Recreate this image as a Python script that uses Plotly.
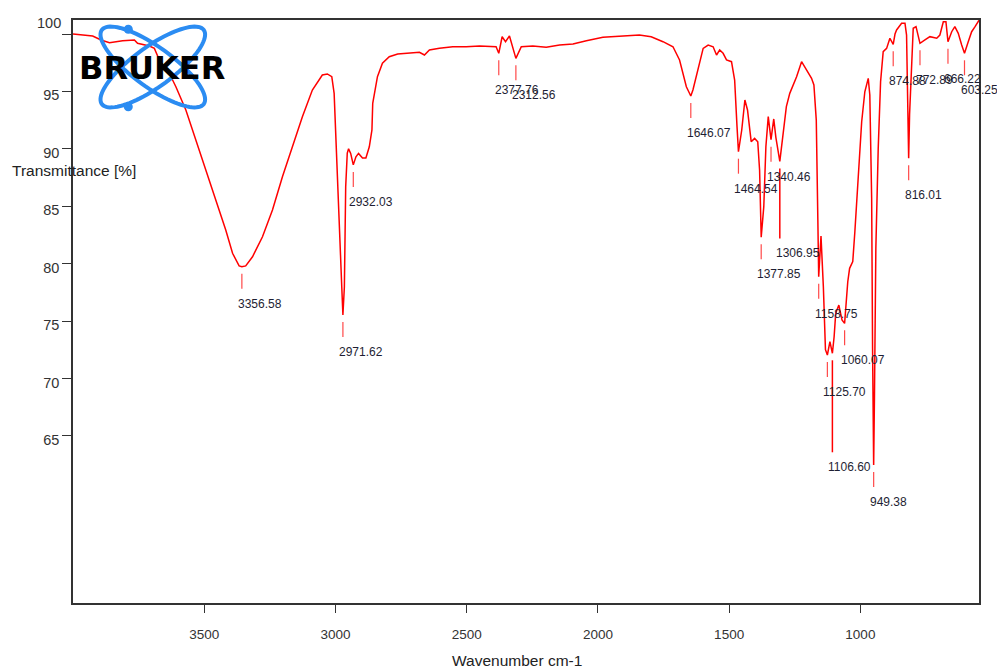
import numpy as np
import plotly.graph_objects as go

# ---------------- data ----------------
wavenumber = [
    4000, 3962, 3925, 3893, 3861, 3811, 3766, 3754, 3709, 3690, 3671, 3633, 3608, 3570,
    3532, 3494, 3456, 3418, 3392, 3367, 3356.58, 3342, 3316, 3278, 3240, 3202, 3164,
    3126, 3088, 3050, 3031, 3014, 3005, 2995, 2986, 2976, 2971.62, 2966, 2961, 2955,
    2950, 2942, 2932.03, 2922, 2912, 2897, 2884, 2871, 2861, 2858, 2840, 2821, 2795,
    2763, 2718, 2680, 2661, 2642, 2604, 2553, 2502, 2451, 2388, 2377.76, 2365, 2352,
    2337, 2325, 2312.56, 2292, 2248, 2197, 2146, 2095, 2044, 1981, 1905, 1842, 1797,
    1752, 1714, 1689, 1663, 1646.07, 1638, 1619, 1599, 1580, 1561, 1548, 1536, 1523,
    1510, 1491, 1479, 1470, 1464.54, 1452, 1440, 1430, 1416, 1403, 1391, 1384,
    1377.85, 1368, 1360, 1351, 1340.46, 1330, 1322, 1306.95, 1282, 1269, 1243, 1224,
    1205, 1186, 1177, 1168, 1162, 1158.75, 1150, 1141, 1133, 1125.70, 1116, 1106.60,
    1100, 1094, 1082, 1070, 1060.07, 1048, 1041, 1029, 1021, 1008, 995, 983, 970, 964,
    957, 953.5, 949.38, 946.5, 943.5, 941, 932, 923, 913, 900, 887.5, 881, 874.88, 868,
    862, 843, 830, 824, 819, 816.01, 812.5, 804, 798.6, 788, 780, 772.89, 754, 735,
    709, 697, 684, 674, 666.22, 652, 640, 627, 614, 603.25, 589, 576, 563, 548,
]
transmittance = [
    100.0, 99.9, 99.83, 99.48, 99.24, 99.42, 99.48, 99.19, 98.95, 98.75, 97.74, 96.58, 95.41, 93.38,
    90.77, 88.15, 85.54, 82.93, 80.9, 79.8, 79.73, 79.8, 80.6, 82.34, 84.67, 87.57, 90.18,
    92.8, 95.12, 96.43, 96.52, 96.28, 94.83, 89.63, 83.8, 77.99, 75.52, 77.99, 86.7, 89.63,
    90.0, 89.6, 88.6, 89.3, 89.6, 89.2, 89.2, 90.18, 91.64, 93.96, 96.28, 97.45, 98.02,
    98.26, 98.32, 98.41, 98.17, 98.61, 98.75, 98.89, 98.89, 98.95, 98.89, 98.32, 99.76, 99.33,
    99.83, 98.89, 97.88, 98.89, 98.95, 98.84, 99.04, 99.13, 99.42, 99.71, 99.83, 99.91, 99.76,
    99.33, 98.89, 97.74, 95.41, 94.6, 95.12, 96.86, 98.75, 99.04, 98.89, 98.17, 98.61, 98.32,
    97.74, 97.59, 95.99, 91.93, 89.75, 91.64, 94.25, 93.38, 90.62, 90.91, 90.62, 88.15,
    82.3, 84.96, 90.2, 92.8, 90.8, 92.6, 91.0, 88.9, 93.67, 94.83, 96.28, 97.59,
    96.86, 96.14, 95.56, 92.5, 83.8, 78.86, 82.4, 77.99, 72.5, 72.04, 73.2, 72.19,
    73.63, 75.67, 76.39, 75.1, 74.8, 78.42, 79.59, 80.17, 82.78, 87.13, 92.36, 94.97, 96.14, 94.69,
    85.69, 72.62, 62.45, 68.0, 78.0, 81.33, 90.04, 95.84, 98.46, 98.75, 99.63, 99.4, 99.1, 100.0,
    100.35, 100.93, 100.93, 99.91, 94.0, 89.17, 93.0, 98.75, 100.5, 100.64, 99.91, 99.19, 99.48, 99.77,
    99.63, 99.91, 101.07, 101.07, 99.33, 100.2, 100.64, 100.06, 99.04, 98.32, 99.33, 100.2, 100.64, 101.2,
]

peak_wavenumbers = [3356.58, 2971.62, 2932.03, 2377.76, 2312.56, 1646.07, 1464.54, 1377.85,
                    1340.46, 1306.95, 1158.75, 1125.70, 1106.60, 1060.07, 949.38, 874.88,
                    816.01, 772.89, 666.22, 603.25]
peak_transmittance = [79.73, 75.52, 88.6, 98.32, 97.88, 94.6, 89.75, 82.3,
                      90.8, 88.9, 78.86, 72.04, 72.19, 74.8, 62.45, 99.1,
                      89.17, 99.19, 99.33, 98.32]
peak_labels = ["3356.58", "2971.62", "2932.03", "2377.76", "2312.56", "1646.07", "1464.54",
               "1377.85", "1340.46", "1306.95", "1158.75", "1125.70", "1106.60", "1060.07",
               "949.38", "874.88", "816.01", "772.89", "666.22", "603.25"]

x_tick_values = [3500, 3000, 2500, 2000, 1500, 1000]
y_tick_values = [65, 70, 75, 80, 85, 90, 95, 100]

# ---------------- layout / styling config ----------------
W, H = 997, 670
ML, MR, MT, MB = 73, 18, 20, 67
PW, PH = W - ML - MR, H - MT - MB
RED = "#ff0000"
TXT = "#333333"

# extra drop (px) of label tick + text for crowded peaks
label_extra_drop = {"1306.95": 55, "1106.60": 77}
TICK_GAP, TICK_LEN, LABEL_OFF = 7, 15, 37


def px_to_paper(px, py):
    return (px - ML) / PW, (H - MB - py) / PH


fig = go.Figure()
fig.add_trace(go.Scatter(
    x=wavenumber, y=transmittance, mode="lines",
    line=dict(color=RED, width=1.5), hoverinfo="skip", showlegend=False,
))

shapes = []
annotations = []

# peak label ticks and text
for wn, t, lab in zip(peak_wavenumbers, peak_transmittance, peak_labels):
    extra = label_extra_drop.get(lab, 0)
    shapes.append(dict(
        type="line", xref="x", yref="y", ysizemode="pixel", yanchor=t,
        x0=wn, x1=wn, y0=-TICK_GAP, y1=-(TICK_GAP + TICK_LEN + extra),
        line=dict(color="rgba(255,40,40,0.85)" if extra == 0 else RED,
                  width=1.2 if extra == 0 else 1.5),
    ))
    annotations.append(dict(
        x=wn, y=t, xref="x", yref="y", text=lab, showarrow=False,
        xanchor="left", yanchor="middle", xshift=-6, yshift=-(LABEL_OFF + extra),
        font=dict(family="Liberation Sans, Arial", size=12, color="#1e1e33"),
    ))

# Bruker logo (decoration)
LOGO_BLUE = "#2b8cf2"
cx, cy = 152.8, 67.0
a_ax, b_ax = 63.0, 20.0
tt = np.linspace(0, 2 * np.pi, 90)
for ang in (36.0, -36.0):
    th = np.deg2rad(ang)
    ex = cx + a_ax * np.cos(tt) * np.cos(th) - b_ax * np.sin(tt) * np.sin(th)
    ey = cy + a_ax * np.cos(tt) * np.sin(th) + b_ax * np.sin(tt) * np.cos(th)
    pts = [px_to_paper(x, y) for x, y in zip(ex, ey)]
    path = "M " + " L ".join(f"{p[0]:.5f},{p[1]:.5f}" for p in pts) + " Z"
    shapes.append(dict(type="path", xref="paper", yref="paper", path=path,
                       line=dict(color=LOGO_BLUE, width=4), layer="above"))
for dx, dy in ((128.3, 29.3), (128.3, 106.7)):
    x0, y0 = px_to_paper(dx - 4.5, dy + 4.5)
    x1, y1 = px_to_paper(dx + 4.5, dy - 4.5)
    shapes.append(dict(type="circle", xref="paper", yref="paper", x0=x0, y0=y0, x1=x1, y1=y1,
                       fillcolor=LOGO_BLUE, line=dict(color=LOGO_BLUE, width=0), layer="above"))

bx, by = px_to_paper(152, 68)
annotations.append(dict(x=bx, y=by, xref="paper", yref="paper", text="<b>BRUKER</b>",
                        showarrow=False, xanchor="center", yanchor="middle",
                        font=dict(family="DejaVu Sans", size=32, color="#000000")))

# top y tick label sits higher than the others in the reference
y_tick_text = [str(v) for v in y_tick_values]
y_tick_text[-1] = ""
annotations.append(dict(x=0, y=y_tick_values[-1], xref="paper", yref="y", text=str(y_tick_values[-1]),
                        showarrow=False, xanchor="right", yanchor="middle", xshift=-10, yshift=11,
                        font=dict(family="Liberation Sans, Arial", size=14.5, color=TXT)))

# axis titles
tx, ty = px_to_paper(10, 170)
annotations.append(dict(x=tx, y=ty, xref="paper", yref="paper", text="Transmittance [%]",
                        showarrow=False, xanchor="left", yanchor="middle",
                        font=dict(family="Liberation Sans, Arial", size=15.5, color="#222222")))
wx, wy = px_to_paper(517, 660)
annotations.append(dict(x=wx, y=wy, xref="paper", yref="paper", text="Wavenumber cm-1",
                        showarrow=False, xanchor="center", yanchor="middle",
                        font=dict(family="Liberation Sans, Arial", size=15.5, color="#222222")))

fig.update_layout(
    width=W, height=H,
    margin=dict(l=ML, r=MR, t=MT, b=MB, pad=0),
    paper_bgcolor="white", plot_bgcolor="white",
    showlegend=False,
    shapes=shapes, annotations=annotations,
    xaxis=dict(
        range=[4000, 548], tickvals=x_tick_values,
        ticktext=[str(v) for v in x_tick_values],
        ticks="outside", ticklen=8, tickwidth=1, tickcolor=TXT,
        showline=True, mirror=True, linecolor=TXT, linewidth=1.5,
        showgrid=False, zeroline=False, ticklabelstandoff=10,
        tickfont=dict(family="Liberation Sans, Arial", size=13.5, color=TXT),
    ),
    yaxis=dict(
        range=[50.44, 101.22], tickvals=y_tick_values,
        ticktext=y_tick_text,
        ticks="outside", ticklen=9, tickwidth=1, tickcolor=TXT,
        showline=True, mirror=True, linecolor=TXT, linewidth=1.5,
        showgrid=False, zeroline=False, ticklabelshift=4,
        tickfont=dict(family="Liberation Sans, Arial", size=14.5, color=TXT),
    ),
)

fig.write_html("out.html", config={"displayModeBar": False})

# remove the browser's default page margin so the figure sits at the window's corner
with open("out.html", "r", encoding="utf-8") as fh:
    html = fh.read()
html = html.replace("<head>", "<head><style>html,body{margin:0;padding:0;overflow:hidden}</style>", 1)
with open("out.html", "w", encoding="utf-8") as fh:
    fh.write(html)
